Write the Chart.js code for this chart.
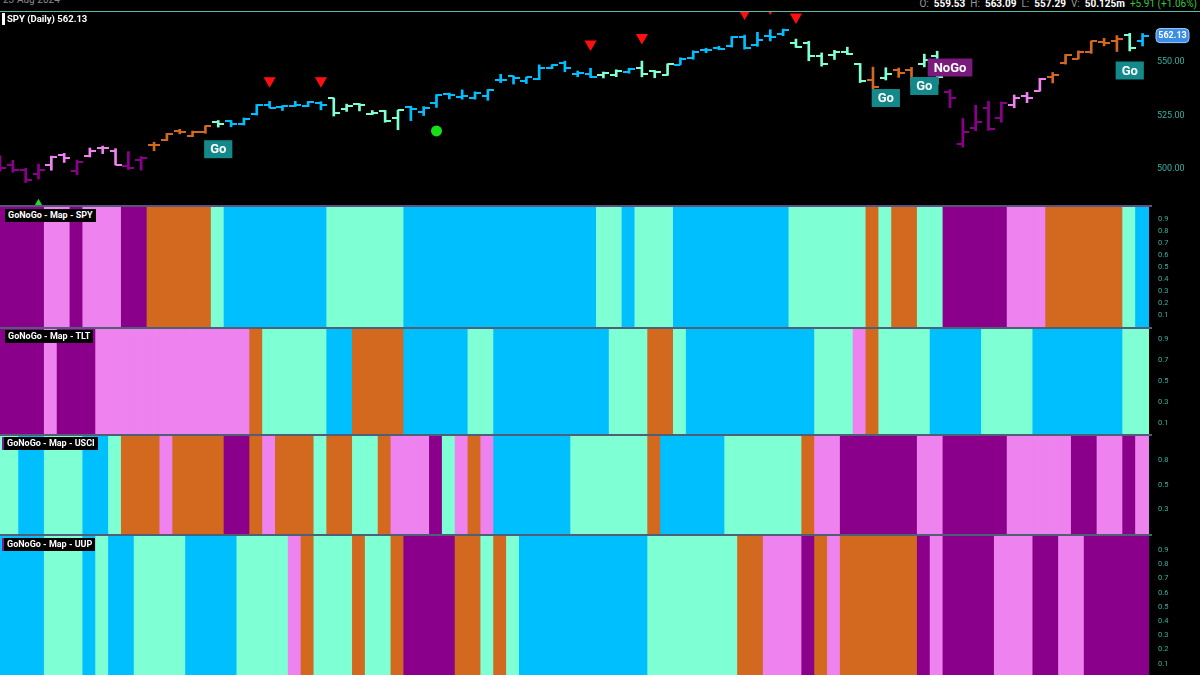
<!DOCTYPE html>
<html>
<head>
<meta charset="utf-8">
<script src="https://cdn.jsdelivr.net/npm/chart.js@4.4.1/dist/chart.umd.min.js"></script>
<style>
  html, body { margin: 0; padding: 0; background: #000; }
  body { width: 1200px; height: 675px; overflow: hidden; position: relative; font-family: Roboto, "DejaVu Sans", sans-serif; }
  .pane { position: absolute; left: 0; width: 1200px; }
  .sep { position: absolute; left: 0; width: 1152px; height: 2px; background: #4f5f78; }
  .head { position: absolute; top: -2px; font-size: 10px; line-height: 12px; white-space: nowrap; }
  .head .k { color: #9a9a9a; margin-left: 5px; }
  .head .v { color: #fff; font-weight: 700; margin-left: 5px; }
  .head .chg { color: #3cc43c; margin-left: 5px; }
  .maptag { position: absolute; left: 5px; background: #000; color: #fff; font-weight: 700; font-size: 9px; line-height: 11px; padding: 1px 3px; }
  .maptag.acc { left: 2px; border-left: 2px solid #7d1d8d; }
</style>
</head>
<body>
<div class="head" style="left:3px; top:-6px; color:#8a8a8a;">23-Aug-2024</div>
<div class="head" style="right:3px;"><span class="k">O:</span><span class="v">559.53</span><span class="k">H:</span><span class="v">563.09</span><span class="k">L:</span><span class="v">557.29</span><span class="k">V:</span><span class="v">50.125m</span><span class="chg">+5.91 (+1.06%)</span></div>
<div style="position:absolute; left:0; top:11px; width:1200px; height:1px; background:#5cb8a5;"></div>

<div class="pane" style="top:12px; height:194px;"><canvas id="price"></canvas></div>
<div style="position:absolute; left:2px; top:13px; width:3px; height:12px; background:#fff;"></div>
<div style="position:absolute; left:7px; top:13px; color:#fff; font-weight:700; font-size:9.5px; line-height:12px;">SPY (Daily) 562.13</div>

<div class="sep" style="top:205px; background:#5b527e;"></div>
<div class="pane" style="top:207px; height:120px;"><canvas id="mapSPY"></canvas></div>
<div class="sep" style="top:327px;"></div>
<div class="pane" style="top:329px; height:105px;"><canvas id="mapTLT"></canvas></div>
<div class="sep" style="top:434px;"></div>
<div class="pane" style="top:436px; height:98px;"><canvas id="mapUSCI"></canvas></div>
<div class="sep" style="top:534px;"></div>
<div class="pane" style="top:536px; height:142px;"><canvas id="mapUUP"></canvas></div>

<div class="maptag" style="top:209px;">GoNoGo - Map - SPY</div>
<div class="maptag" style="top:330px;">GoNoGo - Map - TLT</div>
<div class="maptag acc" style="top:437px;">GoNoGo - Map - USCI</div>
<div class="maptag acc" style="top:538px;">GoNoGo - Map - UUP</div>

<script>
// trading days, 17 Apr 2024 .. 23 Aug 2024
const days = ("04-17 04-18 04-19 04-22 04-23 04-24 04-25 04-26 04-29 04-30 " +
  "05-01 05-02 05-03 05-06 05-07 05-08 05-09 05-10 05-13 05-14 05-15 05-16 05-17 05-20 05-21 05-22 05-23 05-24 05-28 05-29 05-30 05-31 " +
  "06-03 06-04 06-05 06-06 06-07 06-10 06-11 06-12 06-13 06-14 06-17 06-18 06-20 06-21 06-24 06-25 06-26 06-27 06-28 " +
  "07-01 07-02 07-03 07-05 07-08 07-09 07-10 07-11 07-12 07-15 07-16 07-17 07-18 07-19 07-22 07-23 07-24 07-25 07-26 07-29 07-30 07-31 " +
  "08-01 08-02 08-05 08-06 08-07 08-08 08-09 08-12 08-13 08-14 08-15 08-16 08-19 08-20 08-21 08-22 08-23").split(" ");

const opens = [506.06, 501.98, 499.44, 497.83, 501.78, 506.56, 499.18, 506.35, 510.09, 508.56,
  501.38, 504.15, 511.16, 513.75, 517.56, 515.26, 517.38, 521.81, 522.56, 521.11, 525.83, 529.88, 528.81, 529.57, 529.28, 530.65, 532.96, 527.85, 530.27, 525.68, 526.84, 523.59,
  529.02, 526.46, 530.77, 534.98, 533.66, 533.18, 534.07, 541.63, 543.15, 540.88, 542.08, 547.16, 549.44, 544.40, 544.33, 543.99, 543.69, 545.37, 547.16,
  545.63, 543.70, 548.69, 551.77, 555.44, 556.26, 557.07, 561.44, 557.63, 562.03, 562.87, 558.80, 558.51, 552.42, 553.00, 554.54, 548.86, 541.35, 542.28, 546.02, 546.26, 548.98,
  552.57, 535.75, 511.64, 519.22, 528.47, 523.91, 529.81, 534.21, 536.53, 542.85, 549.50, 551.42, 554.73, 559.15, 559.77, 562.56, 559.53];
const highs = [506.22, 504.13, 500.46, 502.38, 506.09, 507.37, 504.27, 509.88, 510.75, 509.56,
  508.19, 505.89, 512.55, 516.61, 518.57, 517.74, 520.21, 522.64, 522.67, 523.83, 530.08, 531.52, 529.52, 531.56, 531.52, 531.38, 533.07, 530.27, 530.51, 527.31, 527.33, 527.50,
  529.31, 529.15, 534.69, 535.42, 536.89, 535.99, 537.01, 544.12, 543.33, 542.81, 548.53, 548.62, 550.28, 545.65, 546.95, 545.20, 546.24, 546.96, 550.28,
  545.88, 549.01, 551.83, 555.05, 556.25, 557.18, 561.67, 562.33, 563.67, 564.84, 565.16, 560.51, 559.52, 554.08, 555.27, 556.74, 549.17, 547.46, 547.19, 547.05, 547.34, 553.50,
  554.87, 536.99, 523.58, 529.75, 531.59, 531.29, 534.51, 535.73, 542.28, 544.96, 553.36, 555.02, 559.61, 560.84, 562.11, 563.18, 563.09];
const lows = [499.12, 498.56, 493.86, 495.43, 499.53, 503.13, 497.49, 505.70, 507.25, 501.98,
  499.87, 499.55, 508.56, 513.30, 516.45, 515.14, 516.71, 519.59, 519.74, 520.56, 525.18, 528.54, 527.32, 529.17, 529.07, 527.60, 524.72, 526.88, 527.11, 525.37, 521.83, 518.36,
  522.60, 524.96, 528.73, 532.68, 532.54, 532.57, 532.05, 540.30, 539.59, 539.85, 541.61, 546.73, 545.30, 543.02, 542.62, 542.44, 543.03, 544.61, 542.95,
  542.52, 543.65, 548.65, 551.12, 554.19, 555.52, 556.77, 555.83, 557.15, 559.63, 562.10, 556.61, 550.43, 547.91, 551.02, 553.28, 540.29, 537.45, 541.49, 542.72, 538.52, 547.58,
  539.43, 528.60, 510.27, 517.87, 518.05, 521.84, 528.56, 530.95, 536.28, 540.12, 548.88, 551.26, 553.86, 557.33, 554.73, 554.98, 557.29];
const closes = [500.55, 499.52, 495.16, 499.72, 505.65, 505.41, 503.49, 508.26, 510.06, 501.98,
  500.35, 505.03, 511.29, 516.57, 517.14, 517.19, 520.17, 520.84, 520.91, 523.30, 529.78, 528.69, 529.45, 530.06, 531.36, 529.83, 525.96, 529.44, 529.81, 526.10, 522.61, 527.37,
  527.80, 528.39, 534.67, 534.66, 534.01, 535.66, 536.95, 541.36, 542.45, 542.78, 547.10, 548.49, 547.00, 544.51, 542.74, 544.83, 545.51, 546.37, 544.22,
  545.34, 549.01, 551.46, 554.64, 555.28, 555.82, 561.32, 556.48, 559.99, 561.53, 564.86, 556.94, 552.66, 548.99, 554.65, 553.78, 541.23, 538.41, 544.44, 544.76, 542.00, 550.81,
  543.01, 532.90, 517.38, 522.15, 518.66, 530.65, 532.99, 533.27, 542.04, 543.75, 553.07, 554.31, 559.61, 558.70, 560.62, 556.22, 562.13];

// GoNoGo map runs: B strong go, A weak go, O go fish, K weak nogo, P strong nogo
const spyMap = "P4 K2 P1 K3 P2 O5 A1 B8 A6 B15 A2 B1 A3 B9 A6 O1 A1 O2 A2 P5 K3 O6 A1 B1";
const tltMap = "P4 K1 P3 K12 O1 A5 B2 O4 B5 A2 B9 A3 O2 A1 B10 A3 K1 O1 A4 B4 A4 B7 A2";
const usciMap = "A2 B2 A3 B2 A1 O3 K1 O4 P2 O1 K1 O3 A1 O2 A2 O1 K3 P1 A1 K1 O1 K1 B6 A6 O1 B5 A6 O1 K2 P6 K2 P5 K5 P2 K2 P1 K1";
const uupMap = "B4 A3 B1 A1 B2 A4 B4 A4 K1 O1 A3 O1 A2 O1 P4 O2 A1 O1 A1 B10 A7 O2 K3 P1 O1 K1 O6 P1 K1 P4 K3 P2 K2 P5";

// signals: [bar index, price level]
const sellSignals = [[21, 541.1], [25, 541.1], [46, 558.2], [50, 561.3], [58, 572.6], [60, 575.0], [62, 570.8]];
const buySignals = [[3, 483.0]];
const dotSignals = [[34, 517.8]];
const trendLabels = [[17, 509.3, "Go"], [69, 533.1, "Go"], [72, 538.7, "Go"], [74, 547.3, "NoGo"], [88, 545.9, "Go"]];

const priceTicks = [500, 525, 550];
const mapTicks = [0.1, 0.2, 0.3, 0.4, 0.5, 0.6, 0.7, 0.8, 0.9];
const usciTicks = [0.25, 0.5, 0.75];

const palette = { B: "#00bfff", A: "#7fffd4", O: "#d2691e", K: "#ee82ee", P: "#8b008b" };
const axisColor = "#36b1a0";
const fontFam = 'Roboto, "DejaVu Sans", sans-serif';

function expandRuns(s) {
    const out = [];
    s.split(" ").forEach((t) => {
        for (let k = 0; k < +t.slice(1); k++) out.push(t[0]);
    });
    return out;
}

const spyCodes = expandRuns(spyMap);

function tickImg(color, side) {
    const c = document.createElement("canvas");
    c.width = 12;
    c.height = 2;
    const g = c.getContext("2d");
    g.fillStyle = color;
    g.fillRect(side === "open" ? 0 : 6, 0, 6, 2);
    return c;
}
const openImgs = {}, closeImgs = {};
Object.keys(palette).forEach((k) => {
    openImgs[k] = tickImg(palette[k], "open");
    closeImgs[k] = tickImg(palette[k], "close");
});

function xScale() {
    return { type: "linear", min: 0, max: days.length - 0.5, offset: false, display: false };
}

function yScale(min, max, ticks, fmt, size, pad) {
    return {
        position: "right", min, max,
        grid: { display: false, drawTicks: false },
        border: { display: false },
        afterBuildTicks(s) { s.ticks = ticks.map((v) => ({ value: v })); },
        afterFit(s) { s.width = 51; s.paddingTop = 0; s.paddingBottom = 0; },
        ticks: { color: axisColor, padding: pad, font: { family: fontFam, size }, callback: fmt },
    };
}

const baseOpts = {
    responsive: true,
    maintainAspectRatio: false,
    animation: false,
    events: [],
    layout: { padding: 0, autoPadding: false },
    plugins: { legend: { display: false }, tooltip: { enabled: false } },
};

const annotate = {
    id: "annotate",
    afterDatasetsDraw(chart) {
        const { ctx, scales: { x, y }, chartArea } = chart;
        ctx.save();
        ctx.font = "700 13px " + fontFam;
        ctx.textAlign = "center";
        ctx.textBaseline = "middle";
        trendLabels.forEach(([i, p, txt]) => {
            const px = x.getPixelForValue(i), py = y.getPixelForValue(p);
            const w = ctx.measureText(txt).width + 12, h = 18;
            ctx.fillStyle = txt === "Go" ? "#14898a" : "#7a1a7c";
            ctx.fillRect(px - w / 2, py - h / 2, w, h);
            ctx.fillStyle = "#fff";
            ctx.fillText(txt, px, py + 1);
        });

        // last price tag on the axis
        const last = closes[closes.length - 1];
        const ty = y.getPixelForValue(last), tx = chartArea.right + 7;
        ctx.beginPath();
        ctx.roundRect(tx, ty - 7, 33, 14, 4);
        ctx.fillStyle = "#3b8ee8";
        ctx.fill();
        ctx.strokeStyle = "#9fcffa";
        ctx.lineWidth = 1;
        ctx.stroke();
        ctx.fillStyle = "#fff";
        ctx.font = "700 9px " + fontFam;
        ctx.fillText(last.toFixed(2), tx + 16.5, ty + 0.5);
        ctx.restore();
    },
};

function pts(list) {
    return list.map(([i, v]) => ({ x: i, y: v }));
}

new Chart(document.getElementById("price"), {
    type: "bar",
    data: {
        datasets: [
            {
                label: "range",
                data: highs.map((h, i) => ({ x: i, y: [lows[i], h] })),
                backgroundColor: (c) => palette[spyCodes[c.dataIndex]],
                barThickness: 2,
                borderWidth: 0,
            },
            {
                type: "line", label: "open", showLine: false,
                data: opens.map((v, i) => ({ x: i, y: v })),
                pointStyle: (c) => openImgs[spyCodes[c.dataIndex]],
                pointRadius: 3,
            },
            {
                type: "line", label: "close", showLine: false,
                data: closes.map((v, i) => ({ x: i, y: v })),
                pointStyle: (c) => closeImgs[spyCodes[c.dataIndex]],
                pointRadius: 3,
            },
            {
                type: "line", label: "sell", showLine: false, data: pts(sellSignals),
                pointStyle: "triangle", rotation: 180, pointRadius: 7,
                pointBackgroundColor: "#ff1010", pointBorderWidth: 0,
            },
            {
                type: "line", label: "buy", showLine: false, data: pts(buySignals),
                pointStyle: "triangle", pointRadius: 7,
                pointBackgroundColor: "#22dd22", pointBorderWidth: 0,
            },
            {
                type: "line", label: "dot", showLine: false, data: pts(dotSignals),
                pointStyle: "circle", pointRadius: 5.5,
                pointBackgroundColor: "#18e018", pointBorderWidth: 0,
            },
        ],
    },
    options: Object.assign({}, baseOpts, {
        scales: {
            x: xScale(),
            y: yScale(482.9, 573.1, priceTicks, (v) => v.toFixed(2), 9, 8),
        },
    }),
    plugins: [annotate],
});

function mapChart(id, runs, ticks) {
    const codes = expandRuns(runs);
    new Chart(document.getElementById(id), {
        type: "bar",
        data: {
            datasets: [{
                data: codes.map((c, i) => ({ x: i, y: 1 })),
                backgroundColor: codes.map((c) => palette[c]),
                borderWidth: 0,
                barPercentage: 1,
                categoryPercentage: 1,
                inflateAmount: 1,
            }],
        },
        options: Object.assign({}, baseOpts, {
            scales: {
                x: xScale(),
                y: yScale(0, 1, ticks, (v) => v.toFixed(1), 7.5, 9),
            },
        }),
    });
}

mapChart("mapSPY", spyMap, mapTicks);
mapChart("mapTLT", tltMap, mapTicks);
mapChart("mapUSCI", usciMap, usciTicks);
mapChart("mapUUP", uupMap, mapTicks);
</script>
</body>
</html>
